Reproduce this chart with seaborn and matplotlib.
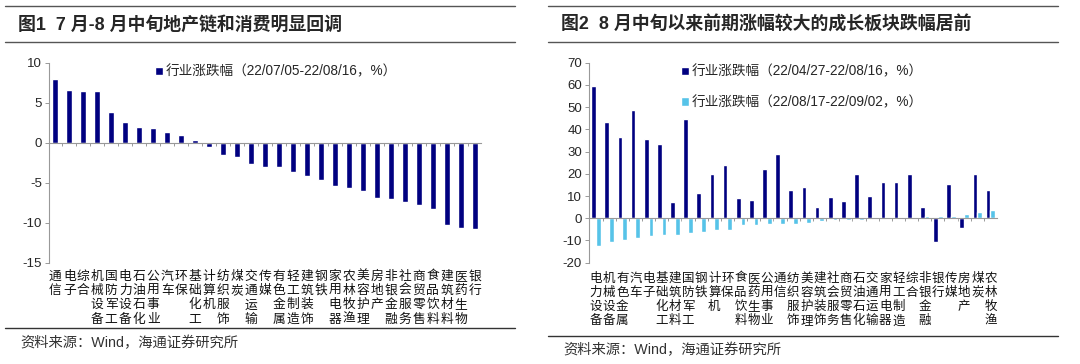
import numpy as np
import pandas as pd
import matplotlib
matplotlib.use("Agg")
import matplotlib.pyplot as plt
from matplotlib.lines import Line2D
import seaborn as sns

# ── data ────────────────────────────────────────────────
cats1 = ["通信", "电子", "综合", "机械设备", "国防军工", "电力设备", "石油石化",
         "公用事业", "汽车", "环保", "基础化工", "计算机", "纺织服饰", "煤炭",
         "交通运输", "传媒", "有色金属", "轻工制造", "建筑装饰", "钢铁", "家用电器",
         "农林牧渔", "美容护理", "房地产", "非银金融", "社会服务", "商贸零售",
         "食品饮料", "建筑材料", "医药生物", "银行"]
vals1 = [7.9, 6.6, 6.5, 6.5, 3.8, 2.6, 1.9, 1.8, 1.4, 1.0, 0.4, -0.5, -1.5,
         -1.8, -2.7, -3.0, -3.0, -3.7, -4.1, -4.7, -5.4, -5.6, -6.0, -6.9,
         -7.0, -7.4, -7.8, -8.3, -10.3, -10.6, -10.8]
label1 = "行业涨跌幅（22/07/05-22/08/16，%）"

cats2 = ["电力设备", "机械设备", "有色金属", "汽车", "电子", "基础化工", "建筑材料",
         "国防军工", "钢铁", "计算机", "环保", "食品饮料", "医药生物", "公用事业",
         "通信", "纺织服饰", "美容护理", "建筑装饰", "社会服务", "商贸零售",
         "石油石化", "交通运输", "家用电器", "轻工制造", "综合", "非银金融", "银行",
         "传媒", "房地产", "煤炭", "农林牧渔"]
vals2a = [59.5, 43.5, 36.4, 48.7, 35.5, 33.4, 7.2, 44.8, 11.5, 19.9, 23.8,
          9.3, 8.4, 22.2, 29.1, 12.6, 14.2, 5.0, 9.6, 7.8, 19.9, 10.2, 16.2,
          16.5, 19.9, 5.0, -10.5, 15.3, -4.5, 19.9, 12.7]
vals2b = [-12.3, -10.5, -9.7, -8.8, -8.2, -7.6, -7.6, -6.6, -6.3, -5.5, -5.5,
          -3.0, -3.0, -2.7, -2.7, -2.4, -2.2, -1.1, -1.0, -0.8, -0.6, -0.5,
          -0.3, -0.2, 0.2, 0.8, 0.9, 1.2, 1.8, 2.8, 3.5]
label2a = "行业涨跌幅（22/04/27-22/08/16，%）"
label2b = "行业涨跌幅（22/08/17-22/09/02，%）"

title1 = "图1  7 月-8 月中旬地产链和消费明显回调"
title2 = "图2  8 月中旬以来前期涨幅较大的成长板块跌幅居前"
source = "资料来源：Wind，海通证券研究所"

NAVY = "#000080"
LIGHT = "#56C3E8"

sns.set_style("white")
plt.rcParams["font.family"] = ["Liberation Sans", "Noto Sans CJK SC"]
plt.rcParams["axes.unicode_minus"] = False

W, H = 1080, 364
fig = plt.figure(figsize=(W / 100, H / 100), dpi=100)
AX_H = 200  # axes height in px


def px_box(x0, x1, y0, y1):
    return [x0 / W, 1 - y1 / H, (x1 - x0) / W, (y1 - y0) / H]


def style_axis(ax, cats, ylim, step, xlim, row0, pitch, fs):
    ax.set_ylim(*ylim)
    ax.set_xlim(*xlim)
    ax.set_yticks(np.arange(ylim[0], ylim[1] + 1, step))
    ax.set_xticks(range(len(cats)))
    ax.set_xticklabels([""] * len(cats))
    ax.set_xticks(np.arange(len(cats) - 1) + 0.5, minor=True)
    # vertical (stacked) category names, one character per row
    tr = ax.get_xaxis_transform()
    for i, name in enumerate(cats):
        for j, ch in enumerate(name):
            ax.text(i, -(row0 + j * pitch) / AX_H, ch, transform=tr,
                    ha="center", va="center", fontsize=fs,
                    family=["Noto Sans CJK SC"], color="#111111")
    for s in ["right", "bottom"]:
        ax.spines[s].set_visible(False)
    ax.spines["left"].set_color("#999999")
    ax.spines["left"].set_linewidth(0.8)
    ax.spines["top"].set_position(("data", 0))
    ax.spines["top"].set_color("#999999")
    ax.spines["top"].set_linewidth(0.8)
    ax.tick_params(axis="x", which="major", length=0,
                   bottom=False, top=False, labelbottom=False, labeltop=False)
    ax.tick_params(axis="x", which="minor", length=2.5, direction="in",
                   top=True, bottom=False, color="#999999", width=0.7)
    ax.tick_params(axis="y", length=3, width=0.7, color="#999999",
                   labelsize=9.5, pad=2, left=True)
    ax.set_xlabel("")
    ax.set_ylabel("")


# ── left panel ───────────────────────────────────────────
df1 = pd.DataFrame({"industry": cats1, "value": vals1, "series": label1})
ax1 = fig.add_axes(px_box(49, 481, 62.7, 262.7))
sns.barplot(data=df1, x="industry", y="value", hue="series",
            palette={label1: NAVY}, width=0.44, saturation=1,
            errorbar=None, ax=ax1)
style_axis(ax1, cats1, (-15, 10), 5, (-0.45, 30.45), 13.5, 14.3, 9.2)
ax1.legend(loc="upper left", bbox_to_anchor=(0.245, 0.99), frameon=False,
           fontsize=9.8, handlelength=0.6, handleheight=0.6,
           handletextpad=0.2, borderaxespad=0, borderpad=0)

# ── right panel ──────────────────────────────────────────
df2 = pd.DataFrame({
    "industry": cats2 * 2,
    "value": vals2a + vals2b,
    "series": [label2a] * len(cats2) + [label2b] * len(cats2),
})
ax2 = fig.add_axes(px_box(589, 997, 62.7, 262.7))
sns.barplot(data=df2, x="industry", y="value", hue="series",
            palette={label2a: NAVY, label2b: LIGHT}, width=0.72,
            saturation=1, errorbar=None, ax=ax2)
style_axis(ax2, cats2, (-20, 70), 10, (-0.53, 30.5), 15.5, 14.2, 9.0)
ax2.legend(loc="upper left", bbox_to_anchor=(0.225, 0.99), frameon=False,
           fontsize=9.8, handlelength=0.6, handleheight=0.6,
           handletextpad=0.2, borderaxespad=0, borderpad=0,
           labelspacing=1.2)

# ── titles, rules, sources ───────────────────────────────
for x0, x1, y_top, y_mid, y_bot, title, ys in [
        (5, 515, 6, 42, 328, title1, 343),
        (548, 1058, 6, 42, 335.5, title2, 350)]:
    for y in (y_top, y_mid):
        fig.add_artist(Line2D([x0 / W, x1 / W], [1 - y / H, 1 - y / H],
                              color="#555555", lw=1.0))
    fig.add_artist(Line2D([x0 / W, x1 / W], [1 - y_bot / H, 1 - y_bot / H],
                          color="#333333", lw=1.0))
    fig.text((x0 + 13) / W, 1 - 25 / H, title, fontsize=12.9,
             fontweight="bold", va="center", ha="left",
             family=["Liberation Sans", "Noto Sans CJK SC"])
    fig.text((x0 + 15) / W, 1 - ys / H, source, fontsize=10.3,
             va="center", ha="left", color="#333333")

fig.savefig("out.png", dpi=100)
